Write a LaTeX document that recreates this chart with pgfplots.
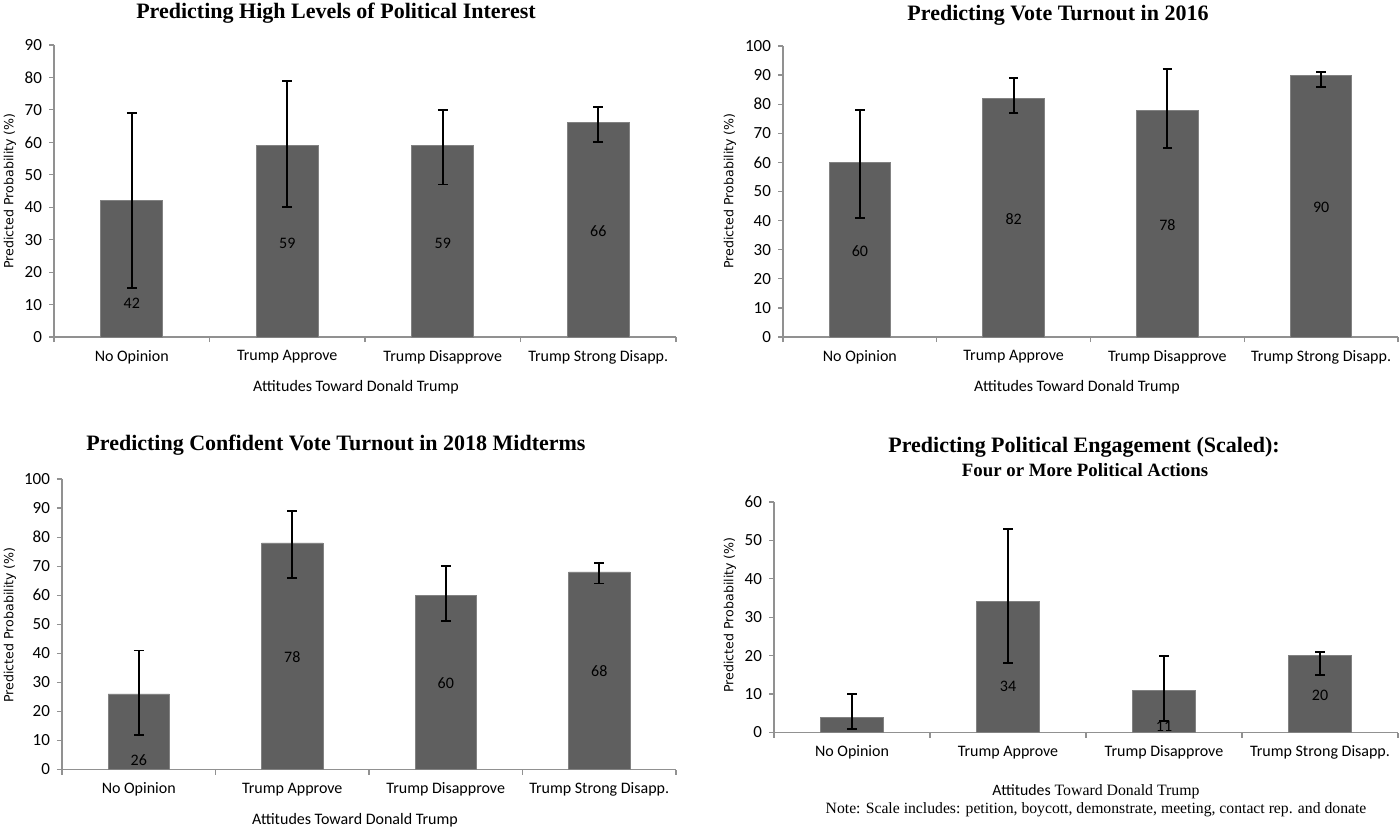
\documentclass[border=0pt]{standalone}
\usepackage{pgfplots}
\pgfplotsset{compat=1.18}
\usepackage{fontspec}
\setmainfont{Liberation Serif}
\newfontfamily\calfont{Carlito}
\newfontfamily\dvfont{DejaVu Sans}

\definecolor{barfill}{RGB}{95,95,95}
\definecolor{baredge}{RGB}{130,130,130}
\definecolor{axgray}{RGB}{145,145,145}

\pgfplotsset{
  trump/.style={
    scale only axis, anchor=south west, clip=false,
    xmin=-0.5, xmax=3.5, ymin=0,
    axis x line*=bottom, axis y line*=left,
    axis line style={axgray, line width=0.6pt},
    tick align=outside, major tick length=2.5pt,
    tick style={axgray, line width=0.6pt},
    xtick={-0.5,0.5,1.5,2.5,3.5}, xticklabels={,,,,},
    extra x ticks={0,1,2,3},
    extra x tick labels={No Opinion,Trump Approve,Trump Disapprove,Trump Strong Disapp.},
    extra x tick style={major tick length=0pt, tick style={draw=none}},
    ytick distance=10,
    /pgf/number format/assume math mode=true,
    tick label style={font=\calfont\fontsize{8}{9}\selectfont, text=black},
    yticklabel style={font=\calfont\fontsize{8.5}{9}\selectfont},
    xticklabel style={anchor=center, yshift=-10pt},
  },
  bars/.style={ybar, bar width=0.4, fill=barfill, draw=baredge, line width=0.4pt,
    error bars/.cd, y dir=both, y explicit,
    error bar style={black, line width=0.9pt},
    error mark options={rotate=90, black, line width=0.9pt, mark size=2.4pt}},
  labs/.style={draw=none, nodes near coords, point meta=explicit symbolic,
    nodes near coords align={center},
    every node near coord/.append style={font=\calfont\fontsize{8}{9}\selectfont, text=black}},
}

\newcommand{\ttl}{\bfseries\fontsize{11}{12}\selectfont}
\newcommand{\xl}{\calfont\fontsize{8}{9}\selectfont}
\newcommand{\yl}{\dvfont\fontsize{6.3}{7}\selectfont}

\begin{document}
\begin{tikzpicture}
\useasboundingbox (0,0) rectangle (700pt,415.5pt);

% top left
\begin{axis}[trump, at={(27pt,247pt)}, width=311pt, height=146pt, ymax=90]
\addplot[bars] table[x=x, y=y, y error plus=ep, y error minus=em] {
x y ep em
0 42 27 27
1 59 20 19
2 59 11 12
3 66 5 6
};
\addplot[labs] table[x=x, y=ly, meta=lab] {
x ly lab
0 10.3 42
1 29.0 59
2 29.0 59
3 32.7 66
};
\end{axis}

% top right
\begin{axis}[trump, at={(391.5pt,247pt)}, width=307.5pt, height=145.5pt, ymax=100]
\addplot[bars] table[x=x, y=y, y error plus=ep, y error minus=em] {
x y ep em
0 60 18 19
1 82 7 5
2 78 14 13
3 90 1 4
};
\addplot[labs] table[x=x, y=ly, meta=lab] {
x ly lab
0 29.6 60
1 40.5 82
2 38.6 78
3 44.6 90
};
\end{axis}

% bottom left
\begin{axis}[trump, at={(31pt,30.75pt)}, width=307pt, height=145.25pt, ymax=100]
\addplot[bars] table[x=x, y=y, y error plus=ep, y error minus=em] {
x y ep em
0 26 15 14
1 78 11 12
2 60 10 9
3 68 3 4
};
\addplot[labs] table[x=x, y=ly, meta=lab] {
x ly lab
0 3.3 26
1 38.8 78
2 29.7 60
3 33.8 68
};
\end{axis}

% bottom right
\begin{axis}[trump, at={(387pt,49.25pt)}, width=312pt, height=115.25pt, ymax=60]
\addplot[bars] table[x=x, y=y, y error plus=ep, y error minus=em] {
x y ep em
0 4 6 3
1 34 19 16
2 11 9 8
3 20 1 5
};
\addplot[labs] table[x=x, y=ly, meta=lab] {
x ly lab
1 12.1 34
2 1.5 11
3 9.6 20
};
\end{axis}

% text placed in reference pixel coordinates
\begin{scope}[x=0.5pt, y=-0.5pt, shift={(0pt,415.5pt)}]
\node[font=\ttl] at (336,13) {Predicting High Levels of Political Interest};
\node[font=\ttl] at (1058,15) {Predicting Vote Turnout in 2016};
\node[font=\ttl] at (336,445) {Predicting Confident Vote Turnout in 2018 Midterms};
\node[font=\ttl] at (1084,447) {Predicting Political Engagement (Scaled):};
\node[font=\bfseries\fontsize{9.4}{10}\selectfont] at (1085,470) {Four or More Political Actions};

\node[font=\xl] at (356,387) {Attitudes Toward Donald Trump};
\node[font=\xl] at (1077,387) {Attitudes Toward Donald Trump};
\node[font=\xl] at (355,820) {Attitudes Toward Donald Trump};
\node[font=\fontsize{7.9}{9}\selectfont] at (1096,792) {{\calfont Attitudes} Toward Donald Trump};
\node[font=\fontsize{7.85}{8}\selectfont] at (1096,810) {Note: Scale includes: petition, boycott, demonstrate, meeting, contact rep. and donate};

\node[font=\yl, rotate=90] at (10,191) {Predicted Probability (\%)};
\node[font=\yl, rotate=90] at (730,191) {Predicted Probability (\%)};
\node[font=\yl, rotate=90] at (10,625) {Predicted Probability (\%)};
\node[font=\yl, rotate=90] at (730,615) {Predicted Probability (\%)};
\end{scope}
\end{tikzpicture}
\end{document}
